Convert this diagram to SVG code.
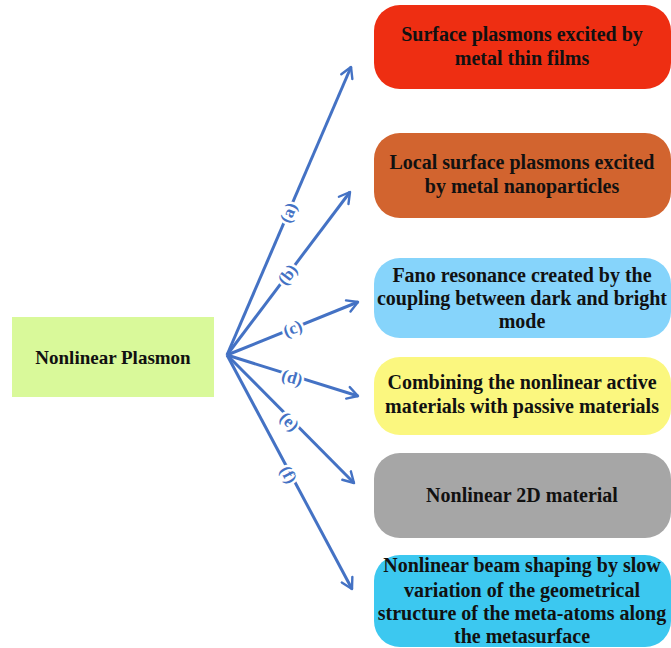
<svg xmlns="http://www.w3.org/2000/svg" width="671" height="648" viewBox="0 0 671 648">
<style>
.t{font-family:"Liberation Serif","Times New Roman",serif;font-weight:bold;font-size:20px;fill:#111;text-anchor:middle}
.r{font-size:19px}
.c{stroke:#4472c4;stroke-width:3;fill:none;marker-end:url(#ah)}
.lb{font-family:"Liberation Serif","Times New Roman",serif;font-weight:bold;font-size:17px;fill:#4472c4;text-anchor:middle;paint-order:stroke;stroke:#fff;stroke-width:5px}
</style>
<defs>
<marker id="ah" viewBox="0 0 10 10" refX="8" refY="5" markerWidth="5" markerHeight="5" orient="auto" markerUnits="strokeWidth">
<path d="M1,1 L8,5 L1,9" fill="none" stroke="#4472c4" stroke-width="1.6" stroke-linecap="round" stroke-linejoin="round"/>
</marker>
</defs>
<rect width="671" height="648" fill="#fff"/>
<g id="connectors">
<line class="c" x1="227" y1="355" x2="351" y2="67"/>
<line class="c" x1="227" y1="355" x2="350" y2="192"/>
<line class="c" x1="227" y1="355" x2="358" y2="302"/>
<line class="c" x1="227" y1="355" x2="358" y2="396"/>
<line class="c" x1="227" y1="355" x2="354" y2="483"/>
<line class="c" x1="227" y1="355" x2="352" y2="589"/>
<text class="lb" transform="translate(289,213) rotate(-67)" y="5">(a)</text>
<text class="lb" transform="translate(288,275) rotate(-53)" y="5">(b)</text>
<text class="lb" transform="translate(293,329) rotate(-22)" y="5">(c)</text>
<text class="lb" transform="translate(292,378) rotate(17)" y="5">(d)</text>
<text class="lb" transform="translate(289,422) rotate(45)" y="5">(e)</text>
<text class="lb" transform="translate(288,475) rotate(62)" y="5">(f)</text>
</g>
<g id="root">
<rect x="12" y="317" width="202" height="80" fill="#d9f99a"/>
<text class="t r" x="113" y="364">Nonlinear Plasmon</text>
</g>
<g id="n1">
<rect x="374" y="5" width="297" height="84" rx="26" fill="#ee2e12"/>
<text class="t" x="522" y="41">Surface plasmons excited by</text>
<text class="t" x="522" y="65">metal thin films</text>
</g>
<g id="n2">
<rect x="374" y="133" width="297" height="85" rx="26" fill="#d2642f"/>
<text class="t" x="522" y="169">Local surface plasmons excited</text>
<text class="t" x="522" y="193">by metal nanoparticles</text>
</g>
<g id="n3">
<rect x="374" y="258" width="297" height="80" rx="26" fill="#86d4fb"/>
<text class="t" x="522" y="282">Fano resonance created by the</text>
<text class="t" x="522" y="305">coupling between dark and bright</text>
<text class="t" x="522" y="328">mode</text>
</g>
<g id="n4">
<rect x="374" y="357" width="297" height="78" rx="26" fill="#fbf77f"/>
<text class="t" x="522" y="389">Combining the nonlinear active</text>
<text class="t" x="522" y="413">materials with passive materials</text>
</g>
<g id="n5">
<rect x="374" y="453" width="297" height="85" rx="26" fill="#a6a6a6"/>
<text class="t" x="522" y="502">Nonlinear 2D material</text>
</g>
<g id="n6">
<rect x="374" y="555" width="297" height="92" rx="26" fill="#3cc8f0"/>
<text class="t" x="522" y="572">Nonlinear beam shaping by slow</text>
<text class="t" x="522" y="597">variation of the geometrical</text>
<text class="t" x="522" y="620">structure of the meta-atoms along</text>
<text class="t" x="522" y="643">the metasurface</text>
</g>
</svg>
